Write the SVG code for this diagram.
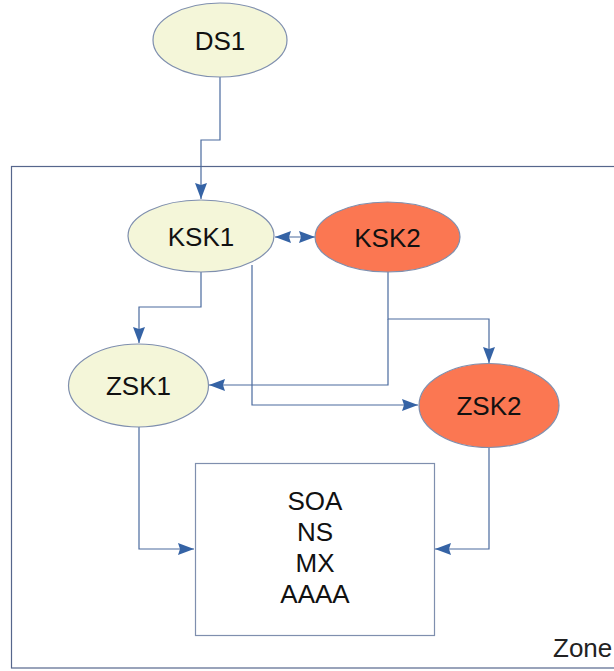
<svg xmlns="http://www.w3.org/2000/svg" width="614" height="671" viewBox="0 0 614 671">
<style>
.light{fill:#f4f6d9;stroke:#7f8fae;stroke-width:1.2}
.hot{fill:#fb7752;stroke:#7f8fae;stroke-width:1.2}
.lbl{font-family:"Liberation Sans",Arial,sans-serif;font-size:26px;fill:#111;text-anchor:middle}
.con{fill:none;stroke:#4a6a9e;stroke-width:1.2}
</style>
<defs>
<marker id="ah" viewBox="0 0 16 12" refX="16" refY="6" markerWidth="16" markerHeight="12" markerUnits="userSpaceOnUse" orient="auto-start-reverse">
<path d="M0,0 L16,6 L0,12 L2,6 Z" fill="#3563a5"/>
</marker>
</defs>
<g id="zone">
<rect x="11.5" y="166.5" width="700" height="501.5" fill="none" stroke="#56668c" stroke-width="1.2"/>
<text x="553" y="657" font-family="'Liberation Sans',Arial,sans-serif" font-size="26" fill="#222">Zone</text>
</g>
<g id="connectors">
<path class="con" d="M220,77 V140 H201 V199" marker-end="url(#ah)"/>
<path class="con" d="M275,237 H315" marker-start="url(#ah)" marker-end="url(#ah)"/>
<path class="con" d="M201,272 V307 H139 V343" marker-end="url(#ah)"/>
<path class="con" d="M252,265 V405 H418" marker-end="url(#ah)"/>
<path class="con" d="M388,272 V319 H489 V363" marker-end="url(#ah)"/>
<path class="con" d="M388,319 V385 H209" marker-end="url(#ah)"/>
<path class="con" d="M139,427 V549 H194" marker-end="url(#ah)"/>
<path class="con" d="M489,447 V549 H435" marker-end="url(#ah)"/>
</g>
<g id="DS1">
<ellipse class="light" cx="220" cy="40" rx="67" ry="37"/>
<text class="lbl" x="220" y="50">DS1</text>
</g>
<g id="KSK1">
<ellipse class="light" cx="201" cy="236" rx="73" ry="36"/>
<text class="lbl" x="201" y="246">KSK1</text>
</g>
<g id="KSK2">
<ellipse class="hot" cx="387.5" cy="237" rx="72.5" ry="35"/>
<text class="lbl" x="387.5" y="247">KSK2</text>
</g>
<g id="ZSK1">
<ellipse class="light" cx="138.5" cy="385.5" rx="70" ry="41.5"/>
<text class="lbl" x="138.5" y="395">ZSK1</text>
</g>
<g id="ZSK2">
<ellipse class="hot" cx="489" cy="405.5" rx="70" ry="42"/>
<text class="lbl" x="489" y="415">ZSK2</text>
</g>
<g id="records">
<rect x="195.5" y="463.5" width="239" height="172" fill="#fff" stroke="#7f8fae" stroke-width="1.2"/>
<text class="lbl" x="315" y="510">SOA</text>
<text class="lbl" x="315" y="541">NS</text>
<text class="lbl" x="315" y="572">MX</text>
<text class="lbl" x="315" y="603">AAAA</text>
</g>
</svg>
